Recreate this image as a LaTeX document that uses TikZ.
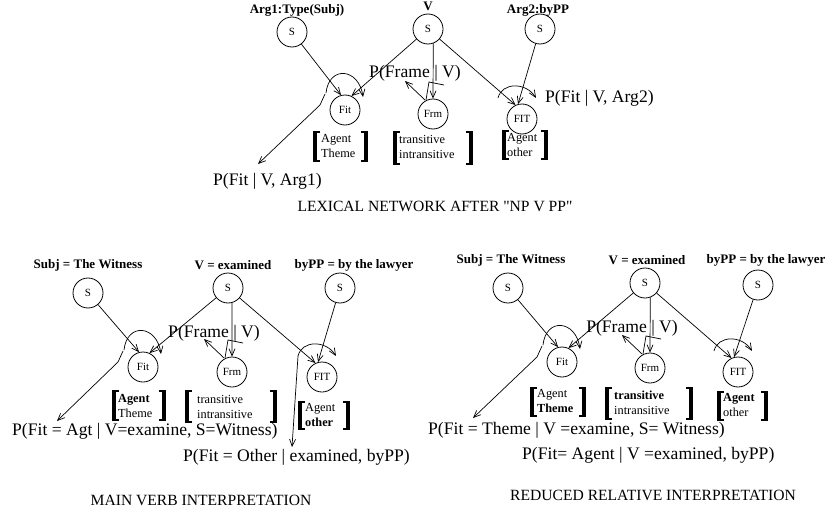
\documentclass[tikz,border=0pt]{standalone}
\usepackage{fontspec}
\setmainfont{Liberation Serif}
\newfontfamily\capfont{Liberation Serif}[Ligatures=TeXOff]
\usetikzlibrary{arrows.meta,calc}
\tikzset{
  unit/.style={circle,draw,line width=0.8pt,minimum size=30pt,inner sep=0pt,font=\fontsize{11}{12}\selectfont},
  head/.style={font=\fontsize{13}{15}\selectfont\bfseries,inner sep=0pt},
  prob/.style={font=\fontsize{17.6}{20}\selectfont,inner sep=0pt},
  capt/.style={font=\capfont\fontsize{15.6}{18}\selectfont,inner sep=0pt},
  vals/.style={font=\fontsize{12.3}{15.5}\selectfont,align=left,inner sep=0pt},
  link/.style={line width=0.7pt,-{Straight Barb[length=7pt,width=6pt]}},
  plainln/.style={line width=0.7pt},
}
\newcommand\drawbrackets[4]{%
  \fill (#1,#3) rectangle (#1+3.6,#4);
  \fill (#1,#3) rectangle (#1+7,#3+2);
  \fill (#1,#4-2) rectangle (#1+7,#4);
  \fill (#2-3.6,#3) rectangle (#2,#4);
  \fill (#2-7,#3) rectangle (#2,#3+2);
  \fill (#2-7,#4-2) rectangle (#2,#4);
}
\begin{document}
\begin{tikzpicture}[x=1pt,y=-1pt]
\useasboundingbox (0,0) rectangle (828,514);

% ================= TOP PANEL =================
\node[head] (th1) at (297,10) {Arg1:Type(Subj)};
\node[head] (th2) at (428,6.5) {V};
\node[head] (th3) at (538,10) {Arg2:byPP};
\node[unit] (ts1) at (292,32) {S};
\node[unit] (tv) at (428,29) {S};
\node[unit] (ts3) at (540,29) {S};
\node[unit] (tfit) at (345,110) {Fit};
\node[unit] (tfrm) at (433,114) {Frm};
\node[unit] (tfitb) at (522,119) {FIT};

\draw[link] (ts1) -- (tfit.105);
\draw[link] (tv) -- (tfit.65);
\draw[link] (tv.-70) -- (tfrm.north);
\draw[link] (tv) -- (tfitb.115);
\draw[link] (ts3) -- (tfitb.105);

\node[prob] (tpf) at (415,73) {P(Frame | V)};
\node[prob,anchor=west] (tp2) at (545,98) {P(Fit | V, Arg2)};
\node[prob,anchor=west] (tp1) at (213,181) {P(Fit | V, Arg1)};
\coordinate (tt1) at (258,164);

\draw[link] ($(tfit)+(-19,-17)$) .. controls ($(tfit)+(-16,-45)$) and ($(tfit)+(14,-42)$) .. ($(tfit)+(18,-13)$);
\draw[link] ($(tfit)+(-20,-16)$) -- ($(tfit)+(-25,-5)$) -- (tt1);
\draw[link] ($(tfrm)+(-8,-14)$) -- ($(tfrm)+(-28,-33)$);
\draw[plainln] ($(tfrm)+(-7,-14)$) -- ($(tfrm)+(-4,-32)$) -- ($(tfrm)+(11,-29)$);
\draw[link] ($(tfitb)+(-24,-21)$) .. controls ($(tfitb)+(-20,-37)$) and ($(tfitb)+(4,-37)$) .. ($(tfitb)+(14,-21)$);

\node[vals,anchor=west] (tva) at (321,146) {Agent\\Theme};
\drawbrackets{313}{368}{131}{162}
\node[vals,anchor=west] (tvb) at (399,147) {transitive\\intransitive};
\drawbrackets{393}{473}{131}{165}
\node[vals,anchor=west] (tvc) at (507,145) {Agent\\other};
\drawbrackets{502}{548}{130}{160}

\node[capt] (tcap) at (435,206) {LEXICAL NETWORK AFTER "NP V PP"};

% ================= BOTTOM LEFT =================
\node[head] (lh1) at (88,265) {Subj = The Witness};
\node[head] (lh2) at (233,265) {V = examined};
\node[head] (lh3) at (354,265) {byPP = by the lawyer};
\node[unit] (ls1) at (88,293) {S};
\node[unit] (lv) at (228,288) {S};
\node[unit] (ls3) at (340,288) {S};
\node[unit] (lfit) at (143,367) {Fit};
\node[unit] (lfrm) at (232,372) {Frm};
\node[unit] (lfitb) at (322,377) {FIT};

\draw[link] (ls1) -- (lfit.105);
\draw[link] (lv) -- (lfit.65);
\draw[link] (lv.-75) -- (lfrm.north);
\draw[link] (lv) -- (lfitb.115);
\draw[link] (ls3) -- (lfitb.105);

\node[prob] (lpf) at (214,333) {P(Frame | V)};
\node[prob,anchor=west] (lp1) at (12,431) {P(Fit = Agt | V=examine, S=Witness)};
\node[prob,anchor=west] (lp2) at (183,457) {P(Fit = Other | examined, byPP)};
\coordinate (lt1) at (57,421);
\coordinate (lt2) at (292,447);

\draw[link] ($(lfit)+(-19,-17)$) .. controls ($(lfit)+(-16,-45)$) and ($(lfit)+(14,-42)$) .. ($(lfit)+(18,-13)$);
\draw[link] ($(lfit)+(-20,-16)$) -- ($(lfit)+(-25,-5)$) -- (lt1);
\draw[link] ($(lfrm)+(-8,-14)$) -- ($(lfrm)+(-28,-33)$);
\draw[plainln] ($(lfrm)+(-7,-14)$) -- ($(lfrm)+(-4,-32)$) -- ($(lfrm)+(11,-29)$);
\draw[link] ($(lfitb)+(-24,-21)$) .. controls ($(lfitb)+(-20,-37)$) and ($(lfitb)+(4,-37)$) .. ($(lfitb)+(14,-21)$);
\draw[link] ($(lfitb)+(-24,-21)$) -- (lt2);

\node[vals,anchor=west] (lva) at (118,406) {{\bfseries Agent}\\Theme};
\drawbrackets{112}{166}{390}{421}
\node[vals,anchor=west] (lvb) at (197,407) {transitive\\intransitive};
\drawbrackets{185}{277}{390}{423}
\node[vals,anchor=west] (lvc) at (305,415) {Agent\\{\bfseries other}};
\drawbrackets{298}{350}{401}{430}

\node[capt] (lcap) at (201,500) {MAIN VERB INTERPRETATION};

% ================= BOTTOM RIGHT =================
\node[head] (rh1) at (511,260) {Subj = The Witness};
\node[head] (rh2) at (647,260) {V = examined};
\node[head] (rh3) at (766,260) {byPP = by the lawyer};
\node[unit] (rs1) at (508,288) {S};
\node[unit] (rv) at (645,283) {S};
\node[unit] (rs3) at (758,285) {S};
\node[unit] (rfit) at (562,362) {Fit};
\node[unit] (rfrm) at (650,368) {Frm};
\node[unit] (rfitb) at (738,372) {FIT};

\draw[link] (rs1) -- (rfit.105);
\draw[link] (rv) -- (rfit.65);
\draw[link] (rv.-70) -- (rfrm.north);
\draw[link] (rv) -- (rfitb.115);
\draw[link] (rs3) -- (rfitb.105);

\node[prob] (rpf) at (632,328) {P(Frame | V)};
\node[prob,anchor=west] (rp1) at (428,430) {P(Fit = Theme | V =examine, S= Witness)};
\node[prob,anchor=west] (rp2) at (522,455) {P(Fit= Agent | V =examined, byPP)};
\coordinate (rt1) at (473,418);

\draw[link] ($(rfit)+(-19,-17)$) .. controls ($(rfit)+(-16,-45)$) and ($(rfit)+(14,-42)$) .. ($(rfit)+(18,-13)$);
\draw[link] ($(rfit)+(-20,-16)$) -- ($(rfit)+(-25,-5)$) -- (rt1);
\draw[link] ($(rfrm)+(-8,-14)$) -- ($(rfrm)+(-28,-33)$);
\draw[plainln] ($(rfrm)+(-7,-14)$) -- ($(rfrm)+(-4,-32)$) -- ($(rfrm)+(11,-29)$);
\draw[link] ($(rfitb)+(-24,-21)$) .. controls ($(rfitb)+(-20,-37)$) and ($(rfitb)+(4,-37)$) .. ($(rfitb)+(14,-21)$);

\node[vals,anchor=west] (rva) at (537,401) {Agent\\{\bfseries Theme}};
\drawbrackets{530}{586}{387}{417}
\node[vals,anchor=west] (rvb) at (614,403) {{\bfseries transitive}\\intransitive};
\drawbrackets{605}{693}{387}{420}
\node[vals,anchor=west] (rvc) at (723,405) {{\bfseries Agent}\\other};
\drawbrackets{717}{768}{391}{421}

\node[capt] (rcap) at (653,495) {REDUCED RELATIVE INTERPRETATION};
\end{tikzpicture}
\end{document}
